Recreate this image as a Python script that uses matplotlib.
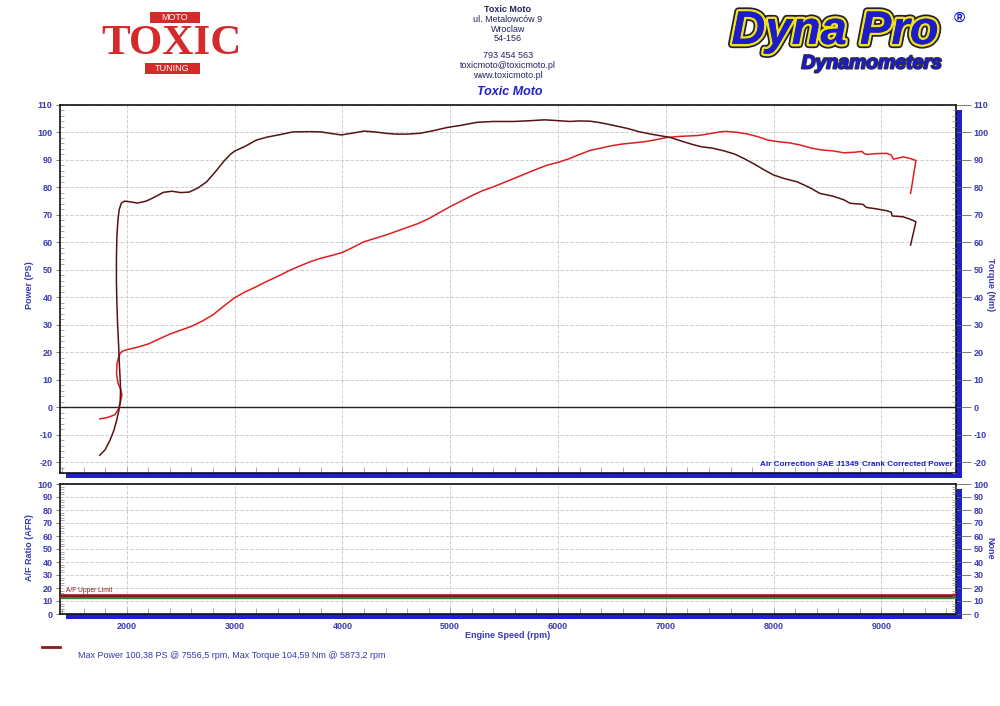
import matplotlib
matplotlib.use("Agg")
import matplotlib.pyplot as plt
from matplotlib.patches import Rectangle
from matplotlib.lines import Line2D
from matplotlib.ticker import MultipleLocator
import matplotlib.patheffects as pe

plt.rcParams['font.family'] = ['Liberation Sans', 'DejaVu Sans']
plt.rcParams['axes.unicode_minus'] = False

# ---------------- data ----------------
power_rpm = [1750, 1820, 1890, 1925, 1945, 1955, 1945, 1920, 1905, 1910, 1930, 1955, 2000, 2100, 2200, 2300,
             2400, 2500, 2600, 2700, 2800, 2900, 3000, 3100, 3200, 3300, 3400, 3500, 3600, 3700, 3800, 3900,
             4000, 4100, 4200, 4300, 4400, 4500, 4600, 4700, 4800, 4900, 5000, 5100, 5200, 5300, 5400, 5500,
             5600, 5700, 5800, 5900, 6000, 6100, 6200, 6300, 6400, 6500, 6600, 6700, 6800, 6900, 7000, 7100,
             7200, 7300, 7400, 7500, 7556, 7650, 7750, 7850, 7950, 8050, 8150, 8250, 8350, 8450, 8550, 8650,
             8750, 8820, 8840, 8870, 8950, 9050, 9090, 9110, 9150, 9200, 9260, 9320, 9300, 9280, 9270]
power_ps = [-4.3, -3.8, -2.8, -0.5, 2.5, 4.5, 6.5, 8.5, 12, 16, 19, 20.3, 20.9, 21.8, 23, 24.8,
            26.6, 28, 29.4, 31.3, 33.6, 36.8, 39.8, 42, 43.8, 45.8, 47.6, 49.6, 51.3, 52.9, 54.2, 55.2,
            56.3, 58.2, 60.2, 61.4, 62.6, 64, 65.4, 66.8, 68.6, 70.8, 73, 75, 77, 78.8, 80.2, 81.8,
            83.4, 85, 86.6, 88.1, 89.1, 90.4, 92, 93.5, 94.3, 95.2, 95.8, 96.2, 96.6, 97.3, 98.1, 98.5,
            98.7, 98.9, 99.5, 100.2, 100.4, 100.1, 99.5, 98.5, 97.2, 96.6, 96.2, 95.4, 94.3, 93.6, 93.3, 92.6,
            92.8, 93.1, 92.3, 92.0, 92.3, 92.4, 91.8, 90.3, 90.6, 91.1, 90.6, 89.8, 85, 80, 77.8]

torque_rpm = [1750, 1800, 1845, 1880, 1905, 1925, 1938, 1942, 1940, 1932, 1925, 1915, 1908, 1904, 1904, 1908,
              1918, 1930, 1950, 1980, 2020, 2100, 2180, 2260, 2340, 2420, 2500, 2580, 2660, 2740, 2820, 2900,
              2960, 3000, 3100, 3200, 3300, 3420, 3540, 3700, 3800, 3900, 3990, 4100, 4200, 4300, 4400, 4500,
              4600, 4720, 4850, 4970, 5100, 5250, 5400, 5590, 5750, 5873, 6000, 6110, 6200, 6300, 6400, 6500,
              6640, 6750, 6860, 6950, 7040, 7150, 7250, 7330, 7430, 7540, 7640, 7720, 7820, 7920, 8000, 8100,
              8220, 8330, 8430, 8550, 8650, 8710, 8780, 8830, 8860, 8950, 9050, 9090, 9100, 9200, 9260, 9320,
              9300, 9270]
torque_nm = [-17.5, -15.5, -12, -8.5, -5, -1.5, 1.5, 5, 9, 15, 22, 30, 38, 46, 54, 62,
             68, 72, 74.3, 75, 74.8, 74.3, 75, 76.5, 78.2, 78.6, 78.1, 78.3, 79.8, 82, 85.6, 89.5,
             92, 93.2, 95, 97.2, 98.3, 99.2, 100.2, 100.3, 100.2, 99.6, 99.1, 99.8, 100.5, 100.2, 99.7, 99.4,
             99.4, 99.7, 100.7, 101.8, 102.6, 103.7, 104, 104, 104.3, 104.6, 104.3, 104, 104.2, 104.1, 103.5, 102.7,
             101.5, 100.3, 99.4, 98.8, 98.2, 96.8, 95.6, 94.8, 94.3, 93.3, 92.1, 90.6, 88.5, 86.2, 84.5, 83.2,
             82, 80, 77.8, 76.8, 75.5, 74.2, 74, 73.8, 72.7, 72.2, 71.5, 71, 69.6, 69.3, 68.5, 67.5,
             64, 59]

afr_upper_limit = 14
afr_lower_line = 12

power_ticks = list(range(-20, 111, 10))
afr_ticks = list(range(0, 101, 10))
rpm_ticks = list(range(2000, 9001, 1000))

header_lines = ["ul. Metalowców 9", "Wroclaw", "54-156", "", "793 454 563",
                "toxicmoto@toxicmoto.pl", "www.toxicmoto.pl"]
summary = "Max Power 100,38 PS @ 7556,5 rpm, Max Torque 104,59 Nm @ 5873,2 rpm"

# ---------------- styling ----------------
W, H = 1000, 706
fig = plt.figure(figsize=(10, 7.06), dpi=100)
fig.patch.set_facecolor('white')

def fx(px):
    return px / W

def fy(py):
    return 1 - py / H

TICK_C = '#3a3ab4'
HEAD_C = '#23235e'
BLUE = '#2020c8'
POWER_C = '#dd1f1f'
TORQUE_C = '#561313'
GRID_C = '#c4c4c4'

L, R = 59.5, 955.5
up_top, up_bot = 105, 473
lo_top, lo_bot = 484, 614
XLIM = (1376, 9687)

ax1 = fig.add_axes([fx(L), fy(up_bot), (R - L) / W, (up_bot - up_top) / H])
ax2 = fig.add_axes([fx(L), fy(lo_bot), (R - L) / W, (lo_bot - lo_top) / H])

# shadows
for top, bot in [(up_top, up_bot), (lo_top, lo_bot)]:
    fig.add_artist(Rectangle((fx(L + 6), fy(bot + 5)), (R - L) / W, (bot - top) / H,
                             transform=fig.transFigure, facecolor=BLUE, edgecolor='none', zorder=-1))

def style_axes(ax, ylim, yticks, minor_y):
    ax.set_xlim(*XLIM)
    ax.set_ylim(*ylim)
    ax.set_yticks(yticks)
    ax.set_xticks(rpm_ticks)
    ax.yaxis.set_minor_locator(MultipleLocator(minor_y))
    ax.xaxis.set_minor_locator(MultipleLocator(200))
    ax.grid(True, which='major', color=GRID_C, lw=0.6, linestyle=(0, (4, 2)))
    for s in ax.spines.values():
        s.set_color('#111111')
        s.set_linewidth(1.2)
    ax.tick_params(axis='y', which='major', direction='out', length=3, width=0.6, color='#666666',
                   labelsize=6.5, labelcolor=TICK_C, pad=2)
    ax.tick_params(axis='y', which='minor', direction='in', length=3, width=0.5, color='#888888')
    ax.tick_params(axis='x', which='both', direction='in', length=4, width=0.5, color='#888888',
                   labelsize=6.5, labelcolor=TICK_C, pad=6)
    for lab in ax.get_yticklabels() + ax.get_xticklabels():
        lab.set_fontweight('bold')
    tw = ax.twinx()
    tw.set_ylim(*ylim)
    tw.set_yticks(yticks)
    tw.yaxis.set_minor_locator(MultipleLocator(minor_y))
    tw.tick_params(axis='y', which='major', direction='out', length=11, width=0.6, color='#666666',
                   labelsize=6.5, labelcolor=TICK_C, pad=2)
    tw.tick_params(axis='y', which='minor', direction='in', length=3, width=0.5, color='#888888')
    for lab in tw.get_yticklabels():
        lab.set_fontweight('bold')
    for s in tw.spines.values():
        s.set_visible(False)
    return tw

style_axes(ax1, (-24, 110), power_ticks, 2)
ax1.tick_params(axis='x', which='both', labelbottom=False)
style_axes(ax2, (0, 100), afr_ticks, 2)

ax1.axhline(0, color='#222222', lw=1.0, zorder=2)
ax1.plot(power_rpm, power_ps, color=POWER_C, lw=1.1, zorder=3)
ax1.plot(torque_rpm, torque_nm, color=TORQUE_C, lw=1.1, zorder=3)

ax2.axhline(afr_upper_limit, color='#8b1a1a', lw=2.6, zorder=3)
ax2.axhline(afr_lower_line, color='#2e8b2e', lw=1.0, zorder=3)
ax2.text(1440, afr_upper_limit + 1.5, "A/F Upper Limit", fontsize=4.8, color='#8b1a1a',
         va='bottom', ha='left')

# axis labels
fig.text(fx(30), fy(285), "Power (PS)", rotation=90, ha='center', va='center',
         fontsize=6.5, color=TICK_C, fontweight='bold')
fig.text(fx(990), fy(285), "Torque (Nm)", rotation=270, ha='center', va='center',
         fontsize=6.5, color=TICK_C, fontweight='bold')
fig.text(fx(30), fy(548), "A/F Ratio (AFR)", rotation=90, ha='center', va='center',
         fontsize=6.5, color=TICK_C, fontweight='bold')
fig.text(fx(990), fy(548), "None", rotation=270, ha='center', va='center',
         fontsize=6.5, color=TICK_C, fontweight='bold')
fig.text(fx(508), fy(636), "Engine Speed (rpm)", ha='center', va='center',
         fontsize=6.5, color=TICK_C, fontweight='bold')

fig.text(fx(859), fy(464), "Air Correction SAE J1349", ha='right', va='center',
         fontsize=5.9, color=BLUE, fontweight='bold')
fig.text(fx(953), fy(464), "Crank Corrected Power", ha='right', va='center',
         fontsize=5.9, color=BLUE, fontweight='bold')

# legend / summary
fig.add_artist(Line2D([fx(42), fx(60)], [fy(647), fy(647)], color='#8b1a1a', lw=2,
                      transform=fig.transFigure))
fig.text(fx(78), fy(656), summary, ha='left', va='center', fontsize=6.5, color='#3838aa')

# header center
fig.text(fx(508), fy(10), "Toxic Moto", ha='center', va='center', fontsize=6.5,
         color=HEAD_C, fontweight='bold')
ys = [19.5, 29.5, 38.5, 48, 56, 65.5, 75]
for t, y in zip(header_lines, ys):
    if t:
        fig.text(fx(508), fy(y), t, ha='center', va='center', fontsize=6.5, color=HEAD_C)
fig.text(fx(510), fy(92), "Toxic Moto", ha='center', va='center', fontsize=9,
         color=BLUE, fontweight='bold', fontstyle='italic')

# TOXIC logo
RED = '#d42a2a'
fig.add_artist(Rectangle((fx(150), fy(23)), 50 / W, 11 / H, transform=fig.transFigure,
                         facecolor=RED, edgecolor='none'))
fig.text(fx(175), fy(17.5), "MOTO", ha='center', va='center', fontsize=6.5, color='white')
fig.text(fx(171), fy(43.5), "TOXIC", ha='center', va='center', fontsize=31, color=RED,
         fontweight='bold', family='Liberation Serif')
fig.add_artist(Rectangle((fx(145), fy(74)), 55 / W, 11 / H, transform=fig.transFigure,
                         facecolor=RED, edgecolor='none'))
fig.text(fx(172.5), fy(68.5), "TUNING", ha='center', va='center', fontsize=6.5, color='white')

# Dyna Pro logo
fig.text(fx(835), fy(32), "Dyna Pro", ha='center', va='center', fontsize=34, color='#1c1cc8',
         fontweight='bold', fontstyle='italic',
         path_effects=[pe.withStroke(linewidth=6, foreground='#222222'),
                       pe.withStroke(linewidth=3.5, foreground='#f2e21c'), pe.Normal()])
fig.text(fx(959), fy(18), "®", ha='center', va='center', fontsize=11, color='#1c1cc8',
         fontweight='bold')
fig.text(fx(872), fy(64), "Dynamometers", ha='center', va='center', fontsize=14, color='#1c1cc8',
         fontweight='bold', fontstyle='italic',
         path_effects=[pe.withStroke(linewidth=1.5, foreground='#333333'), pe.Normal()])

fig.savefig("out.png", dpi=100, facecolor='white')
